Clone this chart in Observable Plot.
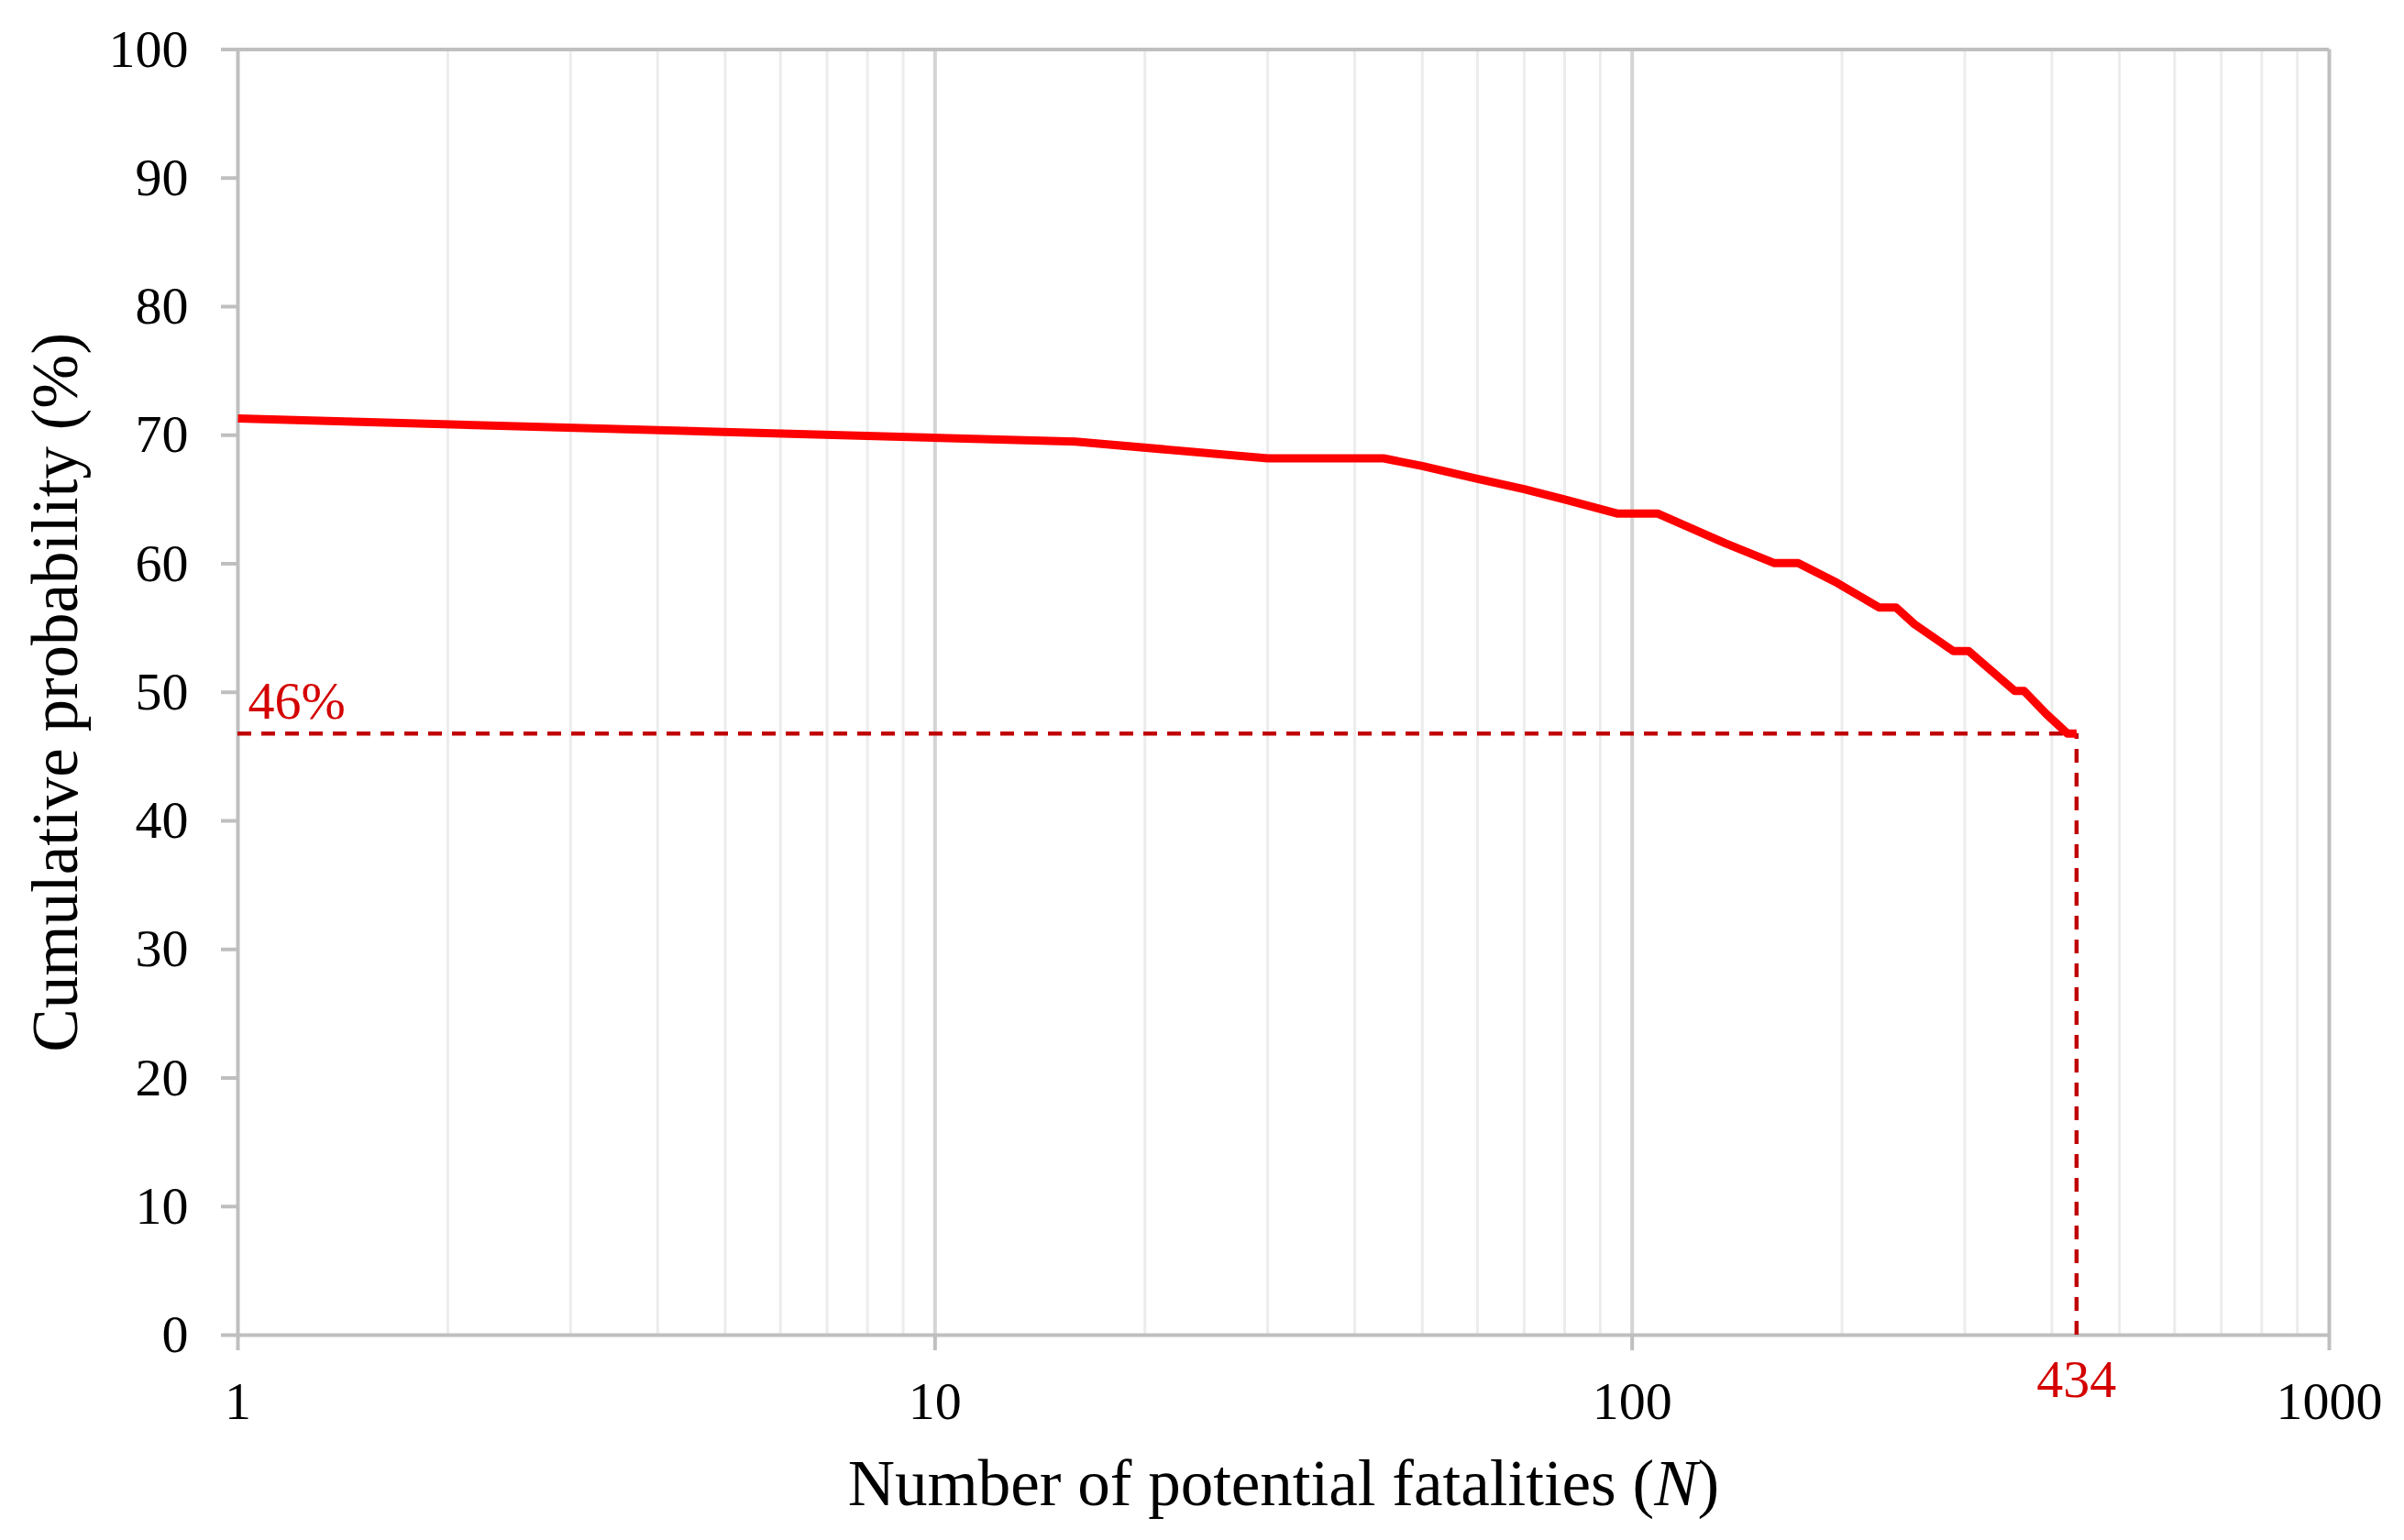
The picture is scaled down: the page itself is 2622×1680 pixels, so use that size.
<!DOCTYPE html>
<html>
<head>
<meta charset="utf-8">
<script src="https://cdn.jsdelivr.net/npm/d3@7"></script>
<script src="https://cdn.jsdelivr.net/npm/@observablehq/plot@0.6"></script>
<style>
  html, body { margin: 0; padding: 0; background: #ffffff; }
  #chart { width: 2622px; height: 1680px; }
</style>
</head>
<body>
<div id="chart"></div>
<script>
// Curve: number of potential fatalities N vs cumulative probability (%)
const fatalities = [1, 15.9, 30, 44, 50, 60, 70, 80, 95.4, 108.9, 136, 160, 173, 197, 226, 239, 254, 289, 304, 354, 365, 393, 421, 434];
const probability = [71.3, 69.5, 68.2, 68.2, 67.6, 66.6, 65.8, 65.0, 63.9, 63.9, 61.6, 60.05, 60.05, 58.5, 56.6, 56.6, 55.3, 53.2, 53.2, 50.1, 50.1, 48.3, 46.8, 46.8];

const xTicks = [1, 10, 100, 1000];
const xMinorTicks = [2,3,4,5,6,7,8,9,20,30,40,50,60,70,80,90,200,300,400,500,600,700,800,900];
const xMajorGrid = [10, 100];
const yTicks = [0, 10, 20, 30, 40, 50, 60, 70, 80, 90, 100];

const xTitle = "Number of potential fatalities (N)";
const yTitle = "Cumulative probability (%)";
const markerN = 434;
const markerP = 46.8;
const markerNLabel = "434";
const markerPLabel = "46%";

const data = fatalities.map((n, i) => ({n, p: probability[i]}));

const axisGray = "#bfbfbf";
const red = "#ff0000";
const darkRed = "#c00000";
const labelRed = "#d40000";

const plot = Plot.plot({
  width: 2622,
  height: 1680,
  marginLeft: 259,
  marginRight: 82,
  marginTop: 53.5,
  marginBottom: 224,
  x: {type: "log", domain: [1, 1000]},
  y: {domain: [0, 100]},
  style: {
    fontFamily: "'Liberation Serif', 'Times New Roman', serif",
    background: "#ffffff",
    color: "#000000"
  },
  marks: [
    Plot.gridX(xMinorTicks, {stroke: "#ececec", strokeOpacity: 1, strokeWidth: 3}),
    Plot.gridX(xMajorGrid, {stroke: "#d4d4d4", strokeOpacity: 1, strokeWidth: 4}),
    Plot.ruleY([100], {stroke: axisGray, strokeWidth: 4}),
    Plot.ruleX([1000], {stroke: axisGray, strokeWidth: 4}),
    Plot.ruleX([1], {stroke: axisGray, strokeWidth: 4}),
    Plot.ruleY([0], {stroke: axisGray, strokeWidth: 4}),
    Plot.axisX({
      ticks: xTicks, tickFormat: d => String(d), tickSize: 17, tickPadding: 33,
      fontSize: 58, stroke: axisGray, strokeWidth: 4, fill: "#000000", label: null
    }),
    Plot.axisY({
      ticks: yTicks, tickFormat: d => String(d), tickSize: 18, tickPadding: 36,
      fontSize: 58, stroke: axisGray, strokeWidth: 4, fill: "#000000", label: null
    }),
    Plot.ruleY([{y: markerP, x1: fatalities[0], x2: markerN}], {
      y: "y", x1: "x1", x2: "x2", stroke: darkRed, strokeWidth: 4.5, strokeDasharray: "15,11"
    }),
    Plot.ruleX([{x: markerN, y1: 0, y2: markerP}], {
      x: "x", y1: "y1", y2: "y2", stroke: darkRed, strokeWidth: 4.5, strokeDasharray: "15,11"
    }),
    Plot.line(data, {x: "n", y: "p", stroke: red, strokeWidth: 9, strokeLinejoin: "round", strokeLinecap: "butt"}),
    Plot.text([{x: fatalities[0], y: markerP, t: markerPLabel}], {
      x: "x", y: "y", text: "t", textAnchor: "start", lineAnchor: "top",
      dx: 11, dy: -57, fontSize: 58, fill: labelRed
    }),
    Plot.text([{x: markerN, y: 0, t: markerNLabel}], {
      x: "x", y: "y", text: "t", textAnchor: "middle", lineAnchor: "top",
      dy: 26, fontSize: 58, fill: labelRed
    }),
    Plot.text([xTitle], {
      text: d => d, frameAnchor: "bottom", textAnchor: "middle", lineAnchor: "top",
      dy: 135, fontSize: 71, fill: "#000000"
    }),
    Plot.text([yTitle], {
      text: d => d, frameAnchor: "left", textAnchor: "middle", lineAnchor: "middle",
      rotate: -90, dx: -198, fontSize: 71, fill: "#000000"
    })
  ]
});

// italic N in the x title
d3.select(plot).selectAll("text").each(function () {
  if (this.textContent === xTitle) {
    const el = d3.select(this);
    el.text(null);
    el.append("tspan").text("Number of potential fatalities (");
    el.append("tspan").attr("font-style", "italic").text("N");
    el.append("tspan").text(")");
  }
});

document.getElementById("chart").appendChild(plot);
</script>
</body>
</html>
